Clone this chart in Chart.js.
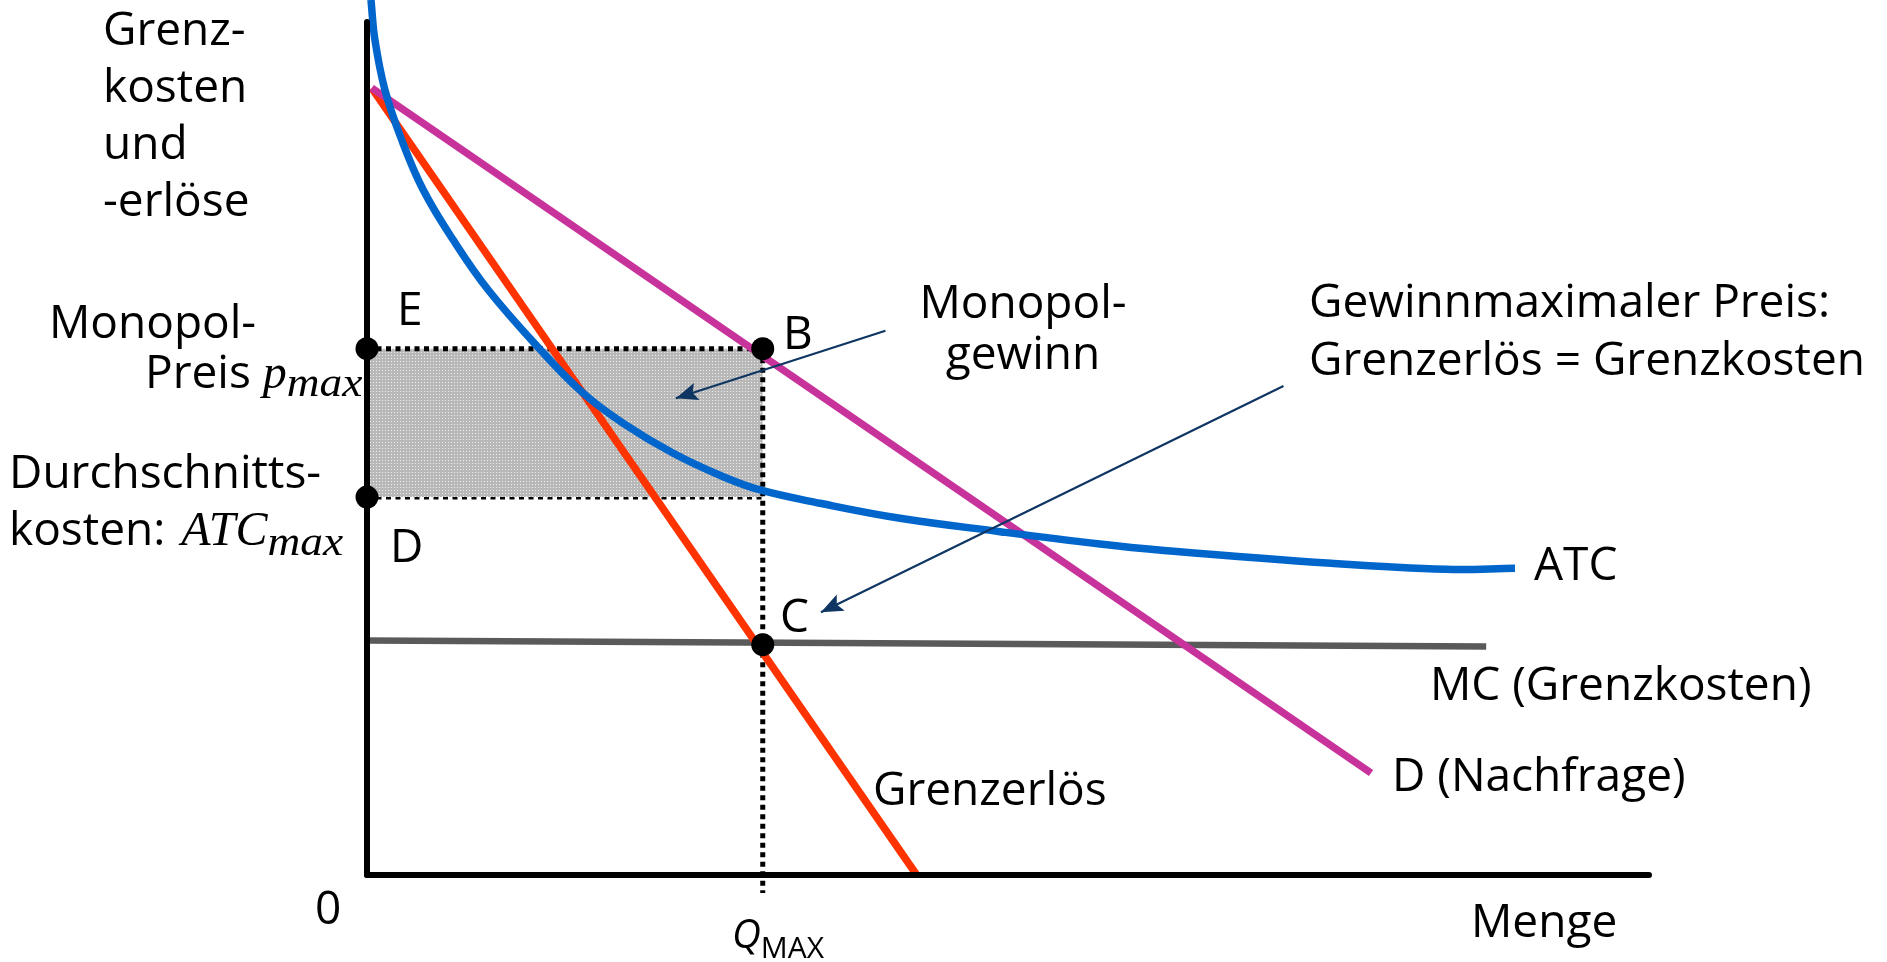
<!DOCTYPE html>
<html>
<head>
<meta charset="utf-8">
<script src="https://cdn.jsdelivr.net/npm/chart.js@4/dist/chart.umd.min.js"></script>
<style>
  html, body { margin: 0; padding: 0; background: #fff; }
  #wrap { width: 1887px; height: 962px; }
</style>
</head>
<body>
<div id="wrap"><canvas id="monopolChart" width="1887" height="962"></canvas></div>
<script>
'use strict';

// Werte (Menge Q 0..10, Preis P 0..10)
let axisQ = [0, 10],
  axisP = [0, 10];

let atcQ = [0.031, 0.062, 0.140, 0.271, 0.439, 0.673, 0.946, 1.349, 1.687, 1.999, 2.389, 2.779, 3.066, 3.534, 4.158, 4.938, 5.718, 6.178, 7.520, 8.417, 8.955],
  atcP = [10.258, 9.789, 9.203, 8.617, 8.030, 7.444, 6.858, 6.163, 5.647, 5.295, 4.944, 4.669, 4.514, 4.358, 4.182, 4.025, 3.880, 3.810, 3.654, 3.584, 3.596];

let demandQ = [0.037, 7.832],
  demandP = [9.226, 1.196];

let mrQ = [0.037, 4.288],
  mrP = [9.226, 0];

let mcQ = [0, 8.73],
  mcP = [2.75, 2.68];

let qMax = 3.087,
  pMax = 6.17,
  atcMax = 4.43,
  pointC = 2.70,
  dottedEnd = -0.21;

// Pfeile: [start, ziel]
let arrowProfitQ = [4.044, 2.409],
  arrowProfitP = [6.381, 5.589];
let arrowPriceQ = [7.149, 3.541],
  arrowPriceP = [5.733, 3.080];

function pts(xs, ys) {
  return xs.map((x, i) => ({x: x, y: ys[i]}));
}

function _stipple() {
  let c = document.createElement('canvas');
  c.width = 3; c.height = 3;
  let g = c.getContext('2d');
  g.fillStyle = '#b8b8b8';
  g.fillRect(0, 0, 3, 3);
  g.fillStyle = '#eeeeee';
  g.fillRect(1, 1, 1, 1);
  return g.createPattern(c, 'repeat');
}

const SANS = '"Open Sans", "Noto Sans", sans-serif';
const SERIF = '"Liberation Serif", "DejaVu Serif", serif';

// Textlayout (Pixel, Grundlinie)
let labels = [
  {t: 'Grenz-', x: 103, y: 45},
  {t: 'kosten', x: 103, y: 102},
  {t: 'und', x: 103, y: 159},
  {t: '-erlöse', x: 103, y: 216},
  {t: 'Monopol-', x: 49, y: 338},
  {t: 'Durchschnitts-', x: 9, y: 488},
  {t: 'E', x: 397, y: 325},
  {t: 'B', x: 783, y: 349},
  {t: 'D', x: 390, y: 562},
  {t: 'C', x: 780, y: 632},
  {t: 'Monopol-', x: 1023, y: 318, align: 'center'},
  {t: 'gewinn', x: 1023, y: 369, align: 'center'},
  {t: 'Gewinnmaximaler Preis:', x: 1309, y: 317},
  {t: 'Grenzerlös = Grenzkosten', x: 1309, y: 375},
  {t: 'ATC', x: 1534, y: 580},
  {t: 'MC (Grenzkosten)', x: 1430, y: 700},
  {t: 'D (Nachfrage)', x: 1392, y: 791},
  {t: 'Grenzerlös', x: 873, y: 805},
  {t: '0', x: 315, y: 924},
  {t: 'Menge', x: 1471, y: 937}
];

let richLabels = [
  {x: 145, y: 388, parts: [
    {t: 'Preis ', font: '46px ' + SANS},
    {t: 'p', font: 'italic 48px ' + SERIF},
    {t: 'max', font: 'italic 42px ' + SERIF, dy: 8, sx: 1.08}
  ]},
  {x: 9, y: 545, parts: [
    {t: 'kosten: ', font: '46px ' + SANS, gap: 4},
    {t: 'ATC', font: 'italic 48px ' + SERIF},
    {t: 'max', font: 'italic 42px ' + SERIF, dy: 10, sx: 1.08}
  ]},
  {x: 732, y: 948, parts: [
    {t: 'Q', font: 'italic 40px ' + SANS},
    {t: 'MAX', font: '30px ' + SANS, dy: 10}
  ]}
];

const textPlugin = {
  id: 'texts',
  afterDatasetsDraw(chart) {
    let ctx = chart.ctx;
    ctx.save();
    ctx.fillStyle = '#000';
    ctx.textBaseline = 'alphabetic';

    // Pfeilspitzen
    chart.data.datasets.forEach((ds, i) => {
      if (!ds.arrow) return;
      let pts = chart.getDatasetMeta(i).data,
        a = pts[pts.length - 2], b = pts[pts.length - 1],
        ang = Math.atan2(b.y - a.y, b.x - a.x), len = 22, half = 9;
      ctx.save();
      ctx.fillStyle = ds.borderColor;
      ctx.translate(b.x, b.y);
      ctx.rotate(ang);
      ctx.beginPath();
      ctx.moveTo(0, 0);
      ctx.lineTo(-len, -half);
      ctx.lineTo(-len * 0.8, 0);
      ctx.lineTo(-len, half);
      ctx.closePath();
      ctx.fill();
      ctx.restore();
    });

    ctx.font = '46px ' + SANS;
    labels.forEach(l => {
      ctx.textAlign = l.align || 'left';
      ctx.fillText(l.t, l.x, l.y);
    });
    ctx.textAlign = 'left';
    richLabels.forEach(r => {
      let x = r.x;
      r.parts.forEach(p => {
        let sx = p.sx || 1;
        ctx.font = p.font;
        ctx.save();
        ctx.translate(x, r.y + (p.dy || 0));
        ctx.scale(sx, 1);
        ctx.fillText(p.t, 0, 0);
        ctx.restore();
        x += ctx.measureText(p.t).width * sx + (p.gap || 0);
      });
    });
    ctx.restore();
  }
};

function _line(data, color, width, extra) {
  return Object.assign({
    type: 'line',
    data: data,
    borderColor: color,
    borderWidth: width,
    pointRadius: 0,
    fill: false,
    clip: false,
    tension: 0
  }, extra || {});
}

function buildChart() {
  let ctx = document.getElementById('monopolChart');
  let dots = [
    {x: 0, y: pMax}, {x: 0, y: atcMax},
    {x: qMax, y: pMax}, {x: qMax, y: pointC}
  ];

  new Chart(ctx, {
    type: 'scatter',
    data: {
      datasets: [
        {type: 'scatter', data: dots, pointRadius: 11.5, pointHoverRadius: 11.5,
          backgroundColor: '#000', borderColor: '#000', borderWidth: 0, clip: false},
        _line(pts(arrowProfitQ, arrowProfitP), '#0f3563', 2.2, {arrow: true}),
        _line(pts(arrowPriceQ, arrowPriceP), '#0f3563', 2.2, {arrow: true}),
        _line(pts([0, 0], axisP), '#000', 6, {borderCapStyle: 'round'}),
        _line(pts(axisQ, [0, 0]), '#000', 6, {borderCapStyle: 'round'}),
        _line(pts(atcQ, atcP), '#0066cc', 7.5, {tension: 0.4}),
        _line(pts(demandQ, demandP), '#c8339b', 7.5),
        _line(pts(mrQ, mrP), '#ff3300', 7.5),
        _line(pts(mcQ, mcP), '#5a5a5a', 6.5),
        _line(pts([qMax, qMax], [pMax, dottedEnd]), '#000', 5, {borderDash: [5, 4.5]}),
        _line(pts([0, qMax], [pMax, pMax]), '#000', 5, {borderDash: [5, 4.5],
          fill: '+1', backgroundColor: _stipple()}),
        _line(pts([0, qMax], [atcMax, atcMax]), '#000', 5, {borderDash: [5, 4.5]})
      ]
    },
    options: {
      responsive: false,
      maintainAspectRatio: false,
      animation: false,
      devicePixelRatio: 1,
      layout: {
        padding: {left: 367, right: 238, top: 22, bottom: 87}
      },
      scales: {
        x: {type: 'linear', min: 0, max: 10, display: false},
        y: {type: 'linear', min: 0, max: 10, display: false}
      },
      plugins: {
        legend: {display: false},
        tooltip: {enabled: false}
      },
      events: []
    },
    plugins: [textPlugin]
  });
}

buildChart();
</script>
</body>
</html>
